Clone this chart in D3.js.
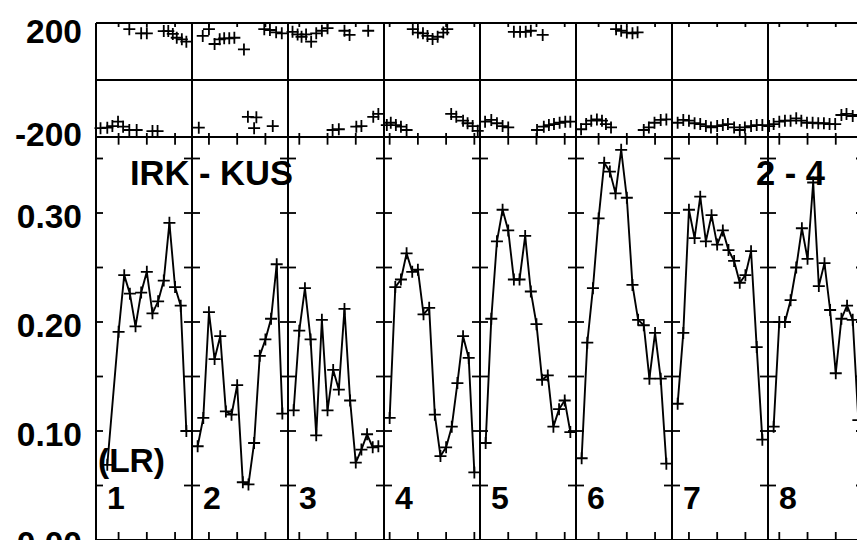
<!DOCTYPE html>
<html><head><meta charset="utf-8">
<script src="https://cdn.jsdelivr.net/npm/d3@7"></script>
<style>body{margin:0;background:#fff}svg{display:block}</style>
</head><body><svg id="c" width="857" height="540"></svg>
<script>
// ---- data ----
const panelLabels = ["1","2","3","4","5","6","7","8"];
const titleText = "IRK - KUS";
const modeText = "(LR)";
const bandText = "2 - 4";
// amplitude, index i -> slot i+1 (null = missing)
const amp1 = [null,0.069,null,0.191,0.243,0.226,0.196,0.227,0.246,0.208,0.219,0.238,0.291,0.232,0.215,0.100];
const amp2 = [0.086,0.112,0.209,0.166,0.187,0.118,0.115,0.142,0.053,0.051,0.089,0.169,0.184,0.203,0.253,0.116];
const amp3 = [0.119,0.192,0.231,0.184,0.096,0.202,0.119,0.156,0.138,0.212,0.128,0.071,0.083,0.097,0.085,0.086];
const amp4 = [0.112,0.232,0.239,0.263,0.246,0.248,0.207,0.213,0.115,0.077,0.085,0.104,0.144,0.187,0.167,0.062];
const amp5 = [0.089,0.203,0.274,0.303,0.284,0.239,0.239,0.279,0.228,0.198,0.147,0.151,0.104,0.120,0.128,0.099];
const amp6 = [0.075,0.181,0.231,0.295,0.346,0.338,0.318,0.358,0.314,0.234,0.202,0.197,0.148,0.190,0.148,0.070];
const amp7 = [0.125,0.190,0.303,0.277,0.315,0.274,0.298,0.271,0.284,0.266,0.256,0.236,0.243,0.265,0.177,0.092];
const amp8 = [0.104,0.200,0.200,0.220,0.250,0.286,0.258,0.328,0.233,0.254,0.211,0.153,0.203,0.215,0.202,0.110];
// phase (degrees), [slot, value]
const phase1 = [[5.9,196],[8.0,180],[9.0,180],[12.0,189],[12.8,189],[13.6,178],[14.3,163],[15.2,157],[16.0,148],
  [0.8,-186],[2.0,-184],[2.9,-178],[3.9,-161],[4.8,-180],[5.9,-193],[7.2,-193],[10.0,-197],[10.9,-197]];
const phase2 = [[1.9,170],[3.0,196],[4.0,139],[4.9,157],[5.7,161],[6.6,161],[7.5,163],[9.2,118],[12.8,196],[13.8,193],[14.9,184],[15.9,180],
  [1.2,-184],[9.9,-142],[11.0,-186],[11.4,-144],[14.3,-178]];
const phase3 = [[0.8,186],[1.7,176],[2.4,167],[3.2,176],[4.1,148],[5.0,180],[6.0,190],[7.0,200],[10.0,190],[10.9,174],[14.2,190],
  [7.9,-193],[9.0,-190],[12.1,-180],[13.0,-178],[15.1,-142],[16.0,-131]];
const phase4 = [[5.1,196],[6.0,183],[6.9,180],[7.7,170],[8.6,158],[9.5,167],[10.5,183],[11.2,196],
  [0.5,-174],[1.2,-165],[2.1,-174],[3.0,-180],[4.0,-193],[11.9,-131],[12.8,-142],[14.0,-157],[14.8,-167],[15.7,-178],[16.6,-196]];
const phase5 = [[6.0,186],[7.1,186],[8.1,186],[9.0,190],[11.1,174],
  [0.9,-161],[2.0,-154],[3.0,-167],[4.0,-178],[5.0,-183],[10.1,-193],[11.3,-180],[12.2,-174],[13.1,-170],[14.1,-165],[15.1,-161],[16.0,-161]];
const phase6 = [[7.1,196],[8.0,190],[9.0,183],[10.0,180],[10.9,184],
  [0.9,-190],[1.8,-170],[2.7,-157],[3.7,-152],[4.6,-157],[5.3,-170],[6.2,-183],[12.0,-193],[12.9,-183],[13.9,-165],[15.0,-154],[16.0,-152]];
const phase7 = [[1.0,-165],[2.0,-154],[3.0,-157],[4.0,-167],[5.0,-170],[6.0,-178],[6.9,-183],[8.0,-178],[9.0,-174],[9.9,-170],
  [11.0,-183],[12.0,-193],[12.9,-183],[14.0,-178],[15.0,-174],[16.0,-174]];
const phase8 = [[0.2,-178],[1.0,-170],[2.0,-161],[3.0,-157],[4.0,-157],[5.0,-148],[5.9,-157],[6.9,-165],[7.9,-165],[8.9,-167],
  [9.9,-167],[10.9,-170],[11.9,-170],[13.0,-135],[13.9,-131],[15.0,-139],[16.0,-135]];
const ampTickLabels = [0, 0.1, 0.2, 0.3];
const ampMinorTicks = [0.05,0.1,0.15,0.2,0.25,0.3,0.35];
const phaseTickLabels = [200, -200];

const ampSeries = [amp1,amp2,amp3,amp4,amp5,amp6,amp7,amp8];
const phaseSeries = [phase1,phase2,phase3,phase4,phase5,phase6,phase7,phase8];

// ---- layout ----
const nP = 8, span = 17, step = 16, tickStep = 5, tickOff = 4;
const left = 96, pw = 96;
const svg = d3.select("#c");
const x = d3.scaleLinear().domain([0, span*nP]).range([left, left + pw*nP]);
const yA = d3.scaleLinear().domain([0, 0.37]).range([540, 136.7]);
const yP = d3.scaleLinear().domain([-220, 220]).range([137, 23]);
const FONT = "'Liberation Sans', Arial, Helvetica, sans-serif";
const lw = 2;

const g = svg.append("g");
// frame lines
const xr = x(span*nP);
[yP(220), yP(0), yP(-220), yA(0)].forEach(yy => {
  g.append("line").attr("x1", left).attr("x2", xr).attr("y1", yy).attr("y2", yy)
   .attr("stroke","#000").attr("stroke-width", lw);
});
for (let k = 0; k <= nP; k++) {
  const xx = x(span*k);
  g.append("line").attr("x1", xx).attr("x2", xx).attr("y1", yP(220)).attr("y2", yA(0))
   .attr("stroke","#000").attr("stroke-width", lw);
  ampMinorTicks.forEach(v => {
    g.append("line").attr("x1", k === 0 ? xx : xx - 8).attr("x2", xx + (k===0 ? 7 : 8))
     .attr("y1", yA(v)).attr("y2", yA(v)).attr("stroke","#000").attr("stroke-width", 1.8);
  });
}
// x ticks
for (let k = 0; k < nP; k++) {
  const s0 = (((tickOff - step*k) % tickStep) + tickStep) % tickStep;
  for (let s = s0; s <= span; s += tickStep) {
    const xx = x(span*k + s);
    const segs = [[yP(220), yP(220)+4],[yP(-220), yP(-220)-4],[yA(0.37), yA(0.37)+8],[yA(0), yA(0)-8]];
    segs.forEach(([a,b]) => g.append("line").attr("x1",xx).attr("x2",xx).attr("y1",a).attr("y2",b)
      .attr("stroke","#000").attr("stroke-width",1.8));
  }
}

// y axis labels
const axA = d3.axisLeft(yA).tickValues(ampTickLabels).tickFormat(d3.format(".2f")).tickSize(0).tickPadding(14);
const axP = d3.axisLeft(yP).tickValues(phaseTickLabels).tickFormat(d => String(d)).tickSize(0).tickPadding(14);
[axA, axP].forEach(ax => {
  const a = svg.append("g").attr("transform", `translate(${left},0)`).call(ax);
  a.select(".domain").remove();
  a.selectAll("text").attr("font-family", FONT).attr("font-weight","bold").attr("font-size", 33.5)
   .attr("fill","#000").attr("dy","0.42em");
});

// data
const plus = "M-6,0H6M0,-6V6";
const line = d3.line().x(d => d[0]).y(d => d[1]);
ampSeries.forEach((arr, k) => {
  const pts = arr.map((v,i) => v == null ? null : [x(span*k + i + 1), yA(v)]).filter(p => p);
  g.append("path").attr("d", line(pts)).attr("fill","none").attr("stroke","#000").attr("stroke-width",1.9);
  g.selectAll(null).data(pts).enter().append("path")
   .attr("d", plus).attr("transform", d => `translate(${d[0]},${d[1]})`)
   .attr("stroke","#000").attr("stroke-width",1.8).attr("fill","none");
});
phaseSeries.forEach((arr, k) => {
  g.selectAll(null).data(arr).enter().append("path")
   .attr("d", plus).attr("transform", d => `translate(${x(span*k + d[0])},${yP(d[1])})`)
   .attr("stroke","#000").attr("stroke-width",1.8).attr("fill","none");
});

// texts
const txt = (t, xx, yy, fs) => svg.append("text").attr("x", xx).attr("y", yy).text(t)
  .attr("font-family", FONT).attr("font-weight","bold").attr("font-size", fs).attr("fill","#000");
txt(titleText, 130, 185, 34.5);
txt(bandText, 756, 185, 34.5);
txt(modeText, 98, 472, 33.5);
panelLabels.forEach((t, k) => txt(t, x(span*k) + 11, 509, 32));
</script></body></html>
